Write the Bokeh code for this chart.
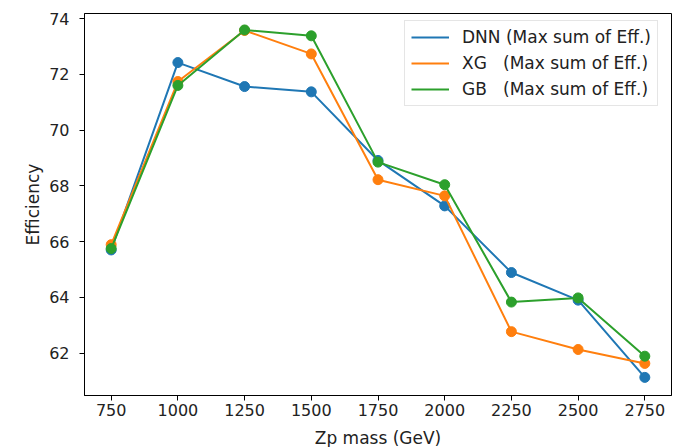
from bokeh.plotting import figure
from bokeh.models import Range1d, FixedTicker, Legend, LegendItem
from bokeh.embed import file_html
from bokeh.resources import INLINE

masses = [750, 1000, 1250, 1500, 1750, 2000, 2250, 2500, 2750]
dnn = [65.70, 72.42, 71.56, 71.37, 68.91, 67.28, 64.89, 63.90, 61.13]
xg = [65.89, 71.74, 73.57, 72.73, 68.22, 67.64, 62.77, 62.13, 61.63]
gb = [65.75, 71.60, 73.59, 73.38, 68.85, 68.04, 63.83, 63.98, 61.89]
labels = ["DNN (Max sum of Eff.)", "XG   (Max sum of Eff.)", "GB   (Max sum of Eff.)"]
colors = ["#1f77b4", "#ff7f0e", "#2ca02c"]
x_ticks = [750, 1000, 1250, 1500, 1750, 2000, 2250, 2500, 2750]
y_ticks = [62, 64, 66, 68, 70, 72, 74]

FONT = "DejaVu Sans"

p = figure(width=675, height=459, output_backend="svg", toolbar_location=None,
           x_range=Range1d(650, 2850), y_range=Range1d(60.48, 74.18),
           min_border_left=84, min_border_right=4, min_border_top=13, min_border_bottom=64)
p.background_fill_color = "white"
p.border_fill_color = "white"
p.outline_line_color = "black"
p.outline_line_width = 1
p.xgrid.visible = False
p.ygrid.visible = False

for ax in (p.xaxis[0], p.yaxis[0]):
    ax.major_tick_out = 5
    ax.major_tick_in = 0
    ax.minor_tick_out = 0
    ax.minor_tick_in = 0
    ax.axis_line_color = "black"
    ax.major_tick_line_color = "black"
    ax.major_label_text_font = FONT
    ax.major_label_text_font_size = "16px"
    ax.major_label_text_color = "#222222"
    ax.axis_label_text_font = FONT
    ax.axis_label_text_font_size = "17px"
    ax.axis_label_text_font_style = "normal"
    ax.axis_label_text_color = "#222222"

p.xaxis.ticker = FixedTicker(ticks=x_ticks)
p.yaxis.ticker = FixedTicker(ticks=y_ticks)
p.xaxis.axis_label = "Zp mass (GeV)"
p.yaxis.axis_label = "Efficiency"
p.xaxis.major_label_standoff = 3
p.xaxis.axis_label_standoff = 9
p.yaxis.major_label_standoff = 10
p.yaxis.axis_label_standoff = 3

items = []
for series, col, lab in zip([dnn, xg, gb], colors, labels):
    r = p.line(masses, series, line_color=col, line_width=2)
    p.scatter(masses, series, size=10, fill_color=col, line_color=col)
    items.append(LegendItem(label=lab, renderers=[r]))

legend = Legend(items=items, location=(320, 289), margin=0,
                padding=6, spacing=6, label_height=20, glyph_height=20, glyph_width=38,
                label_standoff=13, label_text_font=FONT, label_text_font_size="17px",
                label_text_color="#222222",
                border_line_color="#cccccc", border_line_width=1,
                background_fill_color="white", background_fill_alpha=0.8)
p.add_layout(legend)

open("out.html", "w").write(file_html(p, INLINE))
